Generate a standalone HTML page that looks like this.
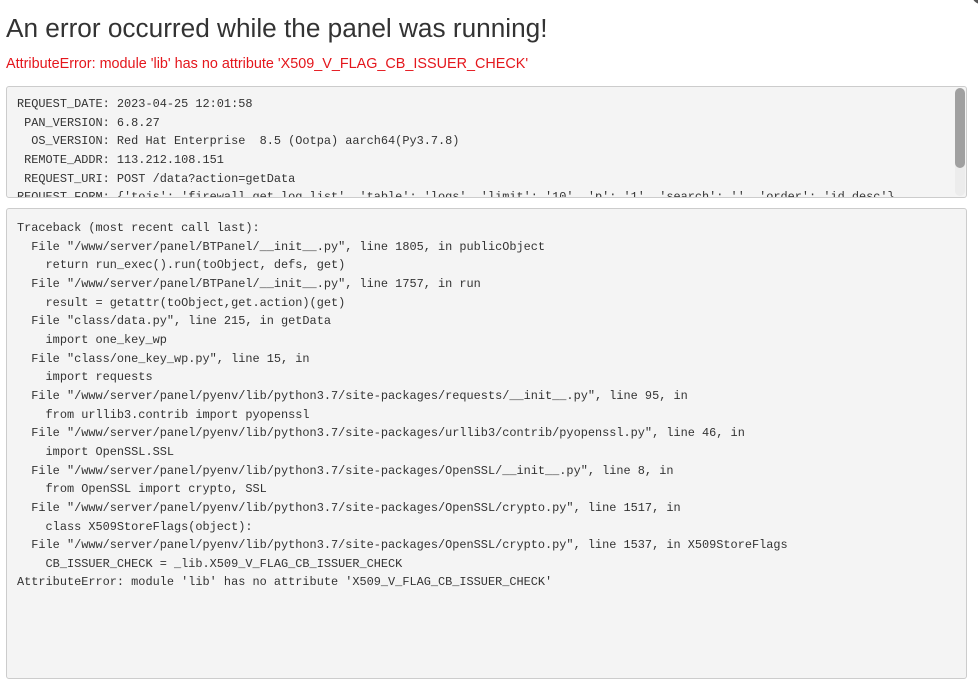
<!DOCTYPE html>
<html><head><meta charset="utf-8"><style>
body{margin:0;width:978px;height:684px;background:#fff;overflow:hidden;position:relative;font-family:"Liberation Sans",sans-serif}
h1{position:absolute;left:6px;top:10px;margin:0;font-weight:normal;font-size:26.2px;color:#333;line-height:36px}
.err{position:absolute;left:6px;top:55px;font-size:14.4px;color:#e4161c;line-height:18px}
.box{position:absolute;left:6px;width:959px;background:#f4f4f4;border:1px solid #ccc;border-radius:3px;overflow:hidden}
pre{margin:0;position:absolute;left:10px;font-family:"Liberation Mono",monospace;font-size:11.9px;line-height:18.65px;color:#333}
.sb{position:absolute;right:1px;top:1px;width:10px;height:108px;background:#ececec;border-radius:5px}
.th{position:absolute;left:0;top:0;width:10px;height:80px;background:#a0a0a0;border-radius:5px}
</style></head><body>
<h1>An error occurred while the panel was running!</h1>
<div class="err">AttributeError: module 'lib' has no attribute 'X509_V_FLAG_CB_ISSUER_CHECK'</div>
<div class="box" style="top:86px;height:110px">
<pre style="top:8px">REQUEST_DATE: 2023-04-25 12:01:58
 PAN_VERSION: 6.8.27
  OS_VERSION: Red Hat Enterprise  8.5 (Ootpa) aarch64(Py3.7.8)
 REMOTE_ADDR: 113.212.108.151
 REQUEST_URI: POST /data?action=getData
REQUEST_FORM: {'tojs': 'firewall.get_log_list', 'table': 'logs', 'limit': '10', 'p': '1', 'search': '', 'order': 'id desc'}</pre>
<div class="sb"><div class="th"></div></div>
</div>
<div class="box" style="top:208px;height:469px">
<pre style="top:10px">Traceback (most recent call last):
  File "/www/server/panel/BTPanel/__init__.py", line 1805, in publicObject
    return run_exec().run(toObject, defs, get)
  File "/www/server/panel/BTPanel/__init__.py", line 1757, in run
    result = getattr(toObject,get.action)(get)
  File "class/data.py", line 215, in getData
    import one_key_wp
  File "class/one_key_wp.py", line 15, in
    import requests
  File "/www/server/panel/pyenv/lib/python3.7/site-packages/requests/__init__.py", line 95, in
    from urllib3.contrib import pyopenssl
  File "/www/server/panel/pyenv/lib/python3.7/site-packages/urllib3/contrib/pyopenssl.py", line 46, in
    import OpenSSL.SSL
  File "/www/server/panel/pyenv/lib/python3.7/site-packages/OpenSSL/__init__.py", line 8, in
    from OpenSSL import crypto, SSL
  File "/www/server/panel/pyenv/lib/python3.7/site-packages/OpenSSL/crypto.py", line 1517, in
    class X509StoreFlags(object):
  File "/www/server/panel/pyenv/lib/python3.7/site-packages/OpenSSL/crypto.py", line 1537, in X509StoreFlags
    CB_ISSUER_CHECK = _lib.X509_V_FLAG_CB_ISSUER_CHECK
AttributeError: module 'lib' has no attribute 'X509_V_FLAG_CB_ISSUER_CHECK'</pre>
</div>
<div style="position:absolute;right:-12px;top:-14px;width:18px;height:18px;border-radius:50%;background:#555"></div>
</body></html>
